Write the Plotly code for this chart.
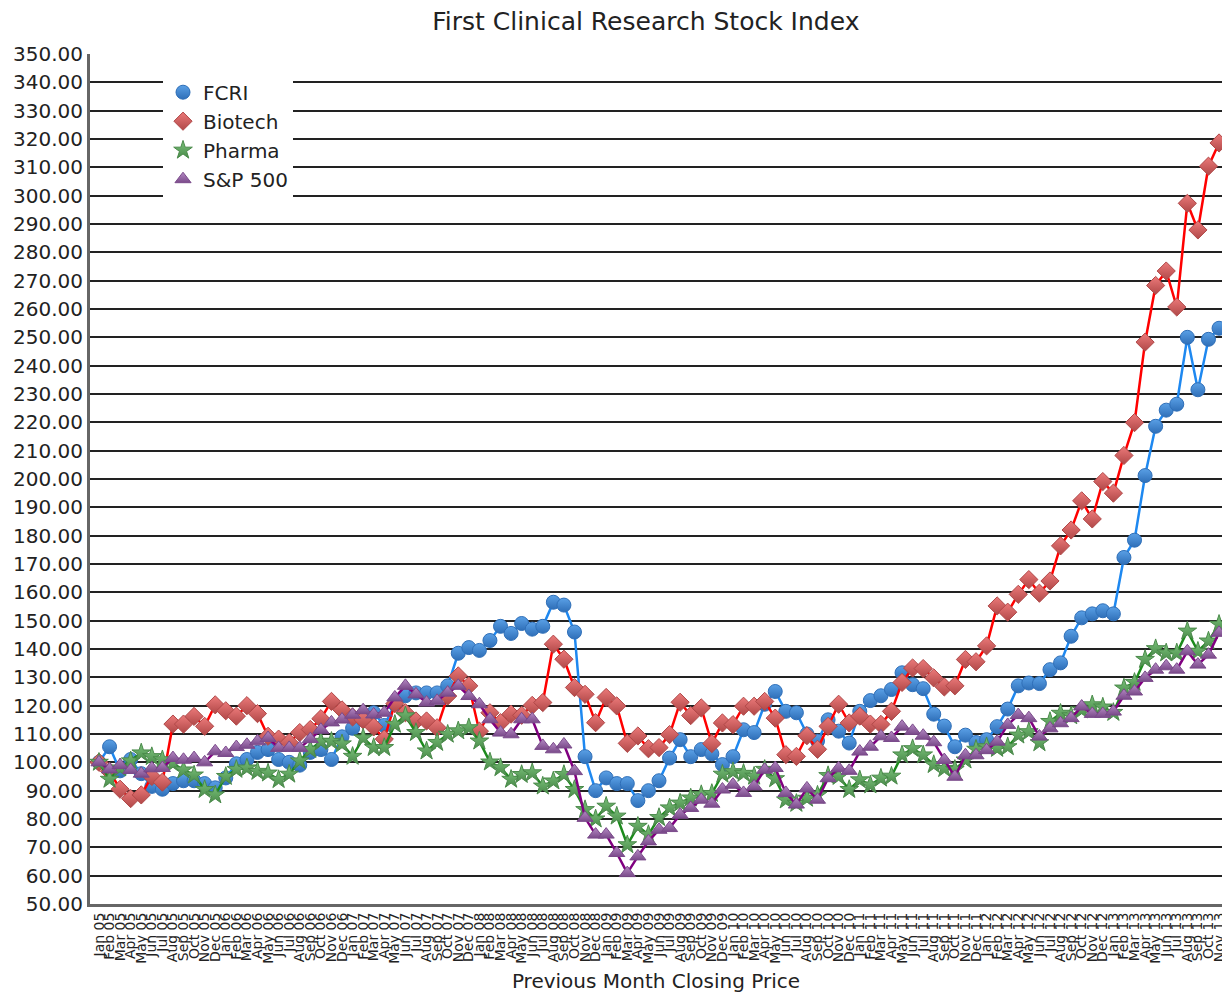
import plotly.graph_objects as go

months = []
for yr in range(5, 14):
    for m in ["Jan", "Feb", "Mar", "Apr", "May", "Jun", "Jul", "Aug", "Sep", "Oct", "Nov", "Dec"]:
        months.append(f"{m} {yr:02d}")
months = months[:107]  # Jan 05 .. Nov 13

fcri = [100, 105.5, 97, 101, 96, 91.5, 90.5, 92.5, 93.5, 93.5, 92.5, 91,
        94.5, 99.5, 101, 103.5, 104.5, 101, 100, 99, 103.5, 104.5, 101, 109,
        112, 115, 117.5, 113, 120.5, 123.5, 124.5, 124.5, 124.5, 127, 138.5, 140.5,
        139.5, 143, 148, 145.5, 149, 147, 148, 156.5, 155.5, 146, 102, 90,
        94.5, 92.5, 92.5, 86.5, 90, 93.5, 101.5, 108, 102, 104.5, 103, 99.2,
        102, 111.5, 110.5, 120.5, 125, 118, 117.5, 110, 107.5, 115, 111, 106.8,
        118, 121.8, 123.5, 125.7, 131.6, 127.4, 126, 117, 112.8, 105.5, 109.6, 107,
        108, 112.6, 118.8, 127, 128, 127.8, 132.7, 135.1, 144.5, 151, 152.4, 153.5,
        152.4, 172.3, 178.4, 201.2, 218.6, 224.3, 226.4, 250, 231.5, 249.3, 253.2]

biotech = [100, 96.8, 90.5, 87.2, 88.5, 95, 93, 113.5, 113.5, 116.2, 112.7, 120.3,
           118.2, 116.3, 120, 117.2, 109.2, 108.2, 107, 110.5, 111.6, 115.4, 121.5, 118.5,
           116, 115, 112.5, 108.2, 120.7, 117.5, 114.6, 114.6, 112.2, 123.4, 130.5, 127,
           111, 117.5, 114, 117, 116.6, 120.1, 121.1, 141.7, 136.4, 126.4, 124, 114,
           122.9, 119.9, 106.7, 109.3, 104.8, 105.2, 109.8, 121.2, 116.5, 119.2, 106.6, 113.9,
           113.3, 119.8, 119.8, 121.5, 115.6, 102.7, 102.1, 109.4, 104.6, 112.7, 120.5, 113.9,
           116.3, 113.5, 113.4, 118, 128.2, 133.3, 133.1, 129.8, 126.6, 127, 136.3, 135.5,
           141.1, 155.2, 153, 159.3, 164.5, 159.7, 164, 176.4, 182, 192.3, 185.9, 199.1,
           195, 208.3, 219.9, 248.3, 268.3, 273.4, 260.7, 297.3, 287.9, 310.4, 318.6]

pharma = [100, 94, 98, 100.5, 103.3, 102, 100.9, 99.6, 97.3, 95.5, 90.4, 88.5,
          95, 97.5, 98, 96.8, 96.2, 93.9, 95.8, 100.5, 104.5, 107.4, 107.4, 106.5,
          102.1, 108.6, 105.2, 105.2, 113.4, 116.4, 110.5, 104, 107, 109.9, 111.1, 112.2,
          107.5, 100.1, 98.1, 94, 95.7, 96.3, 91.6, 93.4, 95.7, 90.4, 83.3, 80,
          84.5, 81, 70.9, 77.4, 74.5, 80.5, 83.9, 85.6, 87.4, 88.6, 89, 95.8,
          96.7, 96.1, 95.1, 97.5, 94.2, 86.7, 85.5, 87.3, 88.4, 95.3, 95, 90.4,
          93.8, 92, 94.4, 95.1, 102.6, 104.8, 102.6, 99.2, 97.8, 97.5, 100.8, 104.6,
          105.5, 104.9, 105.5, 109.6, 110.8, 106.9, 114.4, 117.3, 116.4, 118.5, 120.3, 119.5,
          117.6, 126.2, 128.2, 136.3, 140.1, 138.6, 138.6, 146.3, 139.2, 142.8, 148.7]

sp500 = [100, 97.5, 99, 97.3, 96, 97.9, 98, 101.5, 100.9, 101.5, 100, 103.9,
         103.3, 105.4, 106.2, 107.4, 108.6, 105.1, 105.1, 105.1, 108.2, 111.5, 114.1, 115.1,
         116.8, 118.4, 116.9, 117.5, 122.9, 127, 124, 121.1, 121.7, 124.6, 127, 123.4,
         120.5, 115.2, 110.5, 109.9, 115.2, 115.2, 105.8, 104.6, 106.3, 96.9, 80.4, 74.5,
         74.5, 68, 60.9, 66.8, 72.1, 76.2, 76.8, 81.5, 83.9, 86.8, 85.4, 90.4,
         92.1, 89.2, 91.5, 97.4, 98, 89.2, 85.1, 90.8, 86.8, 94.4, 97.9, 97,
         103.8, 105.5, 109.2, 108.6, 112.6, 111.1, 109.4, 107.1, 100.8, 94.9, 102.5, 102.5,
         104.3, 107.3, 113.2, 116.7, 115.6, 109.1, 112, 113.8, 115.6, 119.7, 117.1, 117.1,
         117.9, 123.5, 125, 129.8, 132.7, 133.9, 132.7, 139.2, 134.5, 138, 145.7]

y_ticks = list(range(50, 351, 10))

FONT = "DejaVu Sans"

series = [
    ("FCRI", fcri, "#1e88f0", "circle", "#5aa0e6", "#2f6fb8"),
    ("Biotech", biotech, "#ff0000", "diamond", "#ec7a7a", "#b04848"),
    ("Pharma", pharma, "#1c8a1c", "star", "#7cc47c", "#4a8a4a"),
    ("S&P 500", sp500, "#800080", "triangle-up", "#b58ac4", "#7a4a8a"),
]

fig = go.Figure()
for name, vals, lcol, sym, mcol, bcol in series:
    mk = dict(symbol=sym, size=14, color=mcol,
              line=dict(color=bcol, width=1),
              gradient=dict(type="vertical", color=bcol))
    fig.add_trace(go.Scatter(
        x=months, y=vals, name=name, mode="lines+markers",
        line=dict(color=lcol, width=2.5), marker=mk, showlegend=False,
    ))
    # legend entry shows the marker symbol only, as in the reference
    fig.add_trace(go.Scatter(
        x=[None], y=[None], name=name, mode="markers", marker=mk, showlegend=True,
    ))

fig.update_layout(
    width=1222, height=993,
    paper_bgcolor="white", plot_bgcolor="white",
    margin=dict(l=90, r=0, t=54, b=89),
    font=dict(family=FONT, color="#222222"),
    title=dict(text="First Clinical Research Stock Index", x=0.5285, xanchor="center",
               y=0.979, yanchor="middle", font=dict(size=25, family=FONT, color="#222222")),
    showlegend=True,
    legend=dict(x=0.0645, y=0.978, xanchor="left", yanchor="top",
                bgcolor="white", borderwidth=0, font=dict(size=20, family=FONT),
                entrywidth=140, tracegroupgap=0),
    xaxis=dict(
        type="category", categoryorder="array", categoryarray=months,
        range=[-0.85, 106.28],
        tickmode="array", tickvals=months, ticktext=months,
        tickangle=-90, tickfont=dict(size=14, family=FONT, color="#222222"),
        showgrid=False, showline=True, linecolor="#666666", linewidth=3,
        ticks="", title=dict(text="Previous Month Closing Price",
                             font=dict(size=20, family=FONT), standoff=12),
        automargin=False,
    ),
    yaxis=dict(
        range=[50, 350], tickmode="array", tickvals=y_ticks,
        tickformat=".2f", tickfont=dict(size=20, family=FONT, color="#222222"),
        showgrid=True, gridcolor="#222222", gridwidth=2,
        showline=True, linecolor="#666666", linewidth=3,
        zeroline=False, ticks="", automargin=False,
    ),
)

fig.write_html("out.html", config={"displayModeBar": False},
               post_script="document.body.style.margin='0';")
